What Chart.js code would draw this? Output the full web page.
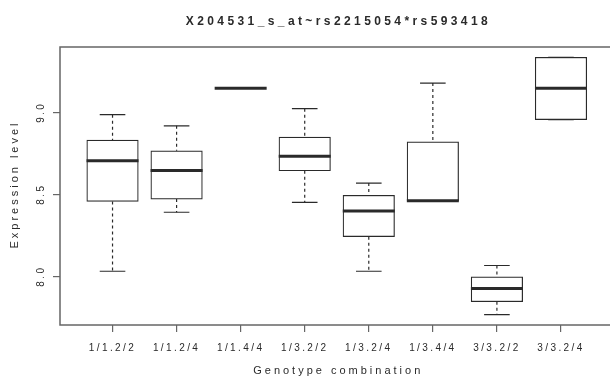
<!DOCTYPE html>
<html>
<head>
<meta charset="utf-8">
<script src="https://cdn.jsdelivr.net/npm/chart.js@4.4.1/dist/chart.umd.min.js"></script>
<style>
  html, body { margin: 0; padding: 0; background: #fff; overflow: hidden; }
  canvas { display: block; }
</style>
</head>
<body>
<canvas id="box" width="614" height="379"></canvas>
<script>
// genotype groups along the x axis
const categories = ['1/1.2/2', '1/1.2/4', '1/1.4/4', '1/3.2/2', '1/3.2/4', '1/3.4/4', '3/3.2/2', '3/3.2/4'];
// five-number summaries
const whiskerLow  = [8.03, 8.39, 9.146, 8.45, 8.03, 8.46, 7.765, 8.955];
const q1          = [8.456, 8.47, 9.146, 8.643, 8.241, 8.46, 7.844, 8.955];
const median      = [8.704, 8.645, 9.146, 8.732, 8.398, 8.46, 7.925, 9.146];
const q3          = [8.83, 8.765, 9.146, 8.848, 8.493, 8.819, 7.996, 9.335];
const whiskerHigh = [8.985, 8.917, 9.146, 9.022, 8.568, 9.178, 8.065, 9.335];
const yTicks = [8.0, 8.5, 9.0];

const TITLE = 'X204531_s_at~rs2215054*rs593418';
const X_TITLE = 'Genotype combination';
const Y_TITLE = 'Expression level';

const INK = '#2a2a2a';
const positions = categories.map((_, i) => i + 1);

// dashed whiskers as one line dataset, broken with NaN between segments
const whiskerData = [];
positions.forEach((x, i) => {
  whiskerData.push({ x, y: whiskerHigh[i] }, { x, y: q3[i] }, { x, y: NaN });
  whiskerData.push({ x, y: q1[i] }, { x, y: whiskerLow[i] }, { x, y: NaN });
});

const capData = [];
positions.forEach((x, i) => {
  capData.push({ x, y: whiskerHigh[i] }, { x, y: whiskerLow[i] });
});

// frame + titles drawn the R way (spaced letters)
const rPlot = {
  id: 'rPlot',
  beforeDraw(chart) {
    chart.ctx.letterSpacing = '2.4px';
  },
  afterDraw(chart) {
    const { ctx, chartArea: a } = chart;
    ctx.save();
    ctx.strokeStyle = '#666';
    ctx.lineWidth = 1.5;
    ctx.strokeRect(a.left, a.top, a.right - a.left, a.bottom - a.top);

    ctx.fillStyle = INK;
    ctx.textAlign = 'center';
    ctx.textBaseline = 'middle';
    const cx = (a.left + a.right) / 2;

    ctx.font = 'bold 12px "Liberation Sans"';
    ctx.letterSpacing = '3.4px';
    ctx.fillText(TITLE, cx + 1.7, 22);

    ctx.font = '11px "Liberation Sans"';
    ctx.letterSpacing = '3px';
    ctx.fillText(X_TITLE, cx + 1.5, 371);

    ctx.translate(15, (a.top + a.bottom) / 2);
    ctx.rotate(-Math.PI / 2);
    ctx.fillText(Y_TITLE, 1.5, 0);
    ctx.restore();
  }
};

new Chart(document.getElementById('box'), {
  type: 'bar',
  data: {
    datasets: [
      {
        type: 'scatter',
        label: 'median',
        data: positions.map((x, i) => ({ x, y: median[i] })),
        pointStyle: 'line',
        pointRadius: 26,
        pointHoverRadius: 26,
        borderWidth: 3,
        borderColor: INK,
        order: 0
      },
      {
        type: 'scatter',
        label: 'staples',
        data: capData,
        pointStyle: 'line',
        pointRadius: 12.8,
        pointHoverRadius: 12.8,
        borderWidth: 1.2,
        borderColor: INK,
        order: 1
      },
      {
        type: 'line',
        label: 'whiskers',
        data: whiskerData,
        borderColor: INK,
        borderWidth: 1.2,
        borderDash: [3, 3],
        pointRadius: 0,
        spanGaps: false,
        order: 2
      },
      {
        type: 'bar',
        label: 'IQR',
        data: positions.map((x, i) => ({ x, y: [q1[i], q3[i]] })),
        backgroundColor: '#fff',
        borderColor: INK,
        borderWidth: 1.2,
        borderSkipped: false,
        barThickness: 51.5,
        order: 3
      }
    ]
  },
  options: {
    responsive: false,
    animation: false,
    events: [],
    layout: { autoPadding: false, padding: { top: 47, right: 0.5, left: 0, bottom: 0 } },
    plugins: {
      legend: { display: false },
      title: { display: false },
      tooltip: { enabled: false }
    },
    scales: {
      x: {
        type: 'linear',
        min: 0.18,
        max: 8.82,
        offset: false,
        afterBuildTicks: (s) => { s.ticks = positions.map(v => ({ value: v })); },
        afterFit: (s) => { s.height = 54; s.paddingLeft = 0; s.paddingRight = 0; },
        border: { display: false },
        grid: { offset: false, drawOnChartArea: false, drawTicks: true, tickLength: 7, color: '#666', lineWidth: 1.2 },
        ticks: {
          autoSkip: false,
          maxRotation: 0,
          padding: 10,
          color: INK,
          font: { family: '"Liberation Sans"', size: 10 },
          callback: (v) => categories[v - 1] || ''
        }
      },
      y: {
        type: 'linear',
        min: 7.702,
        max: 9.398,
        afterBuildTicks: (s) => { s.ticks = yTicks.map(v => ({ value: v })); },
        afterFit: (s) => { s.width = 60; s.paddingTop = 0; s.paddingBottom = 0; },
        border: { display: false },
        grid: { drawOnChartArea: false, drawTicks: true, tickLength: 7, color: '#666', lineWidth: 1.2 },
        ticks: {
          minRotation: 90,
          maxRotation: 90,
          crossAlign: 'center',
          padding: 5,
          color: INK,
          font: { family: '"Liberation Sans"', size: 10 },
          callback: (v) => Number(v).toFixed(1)
        }
      }
    }
  },
  plugins: [rPlot]
});
</script>
</body>
</html>
